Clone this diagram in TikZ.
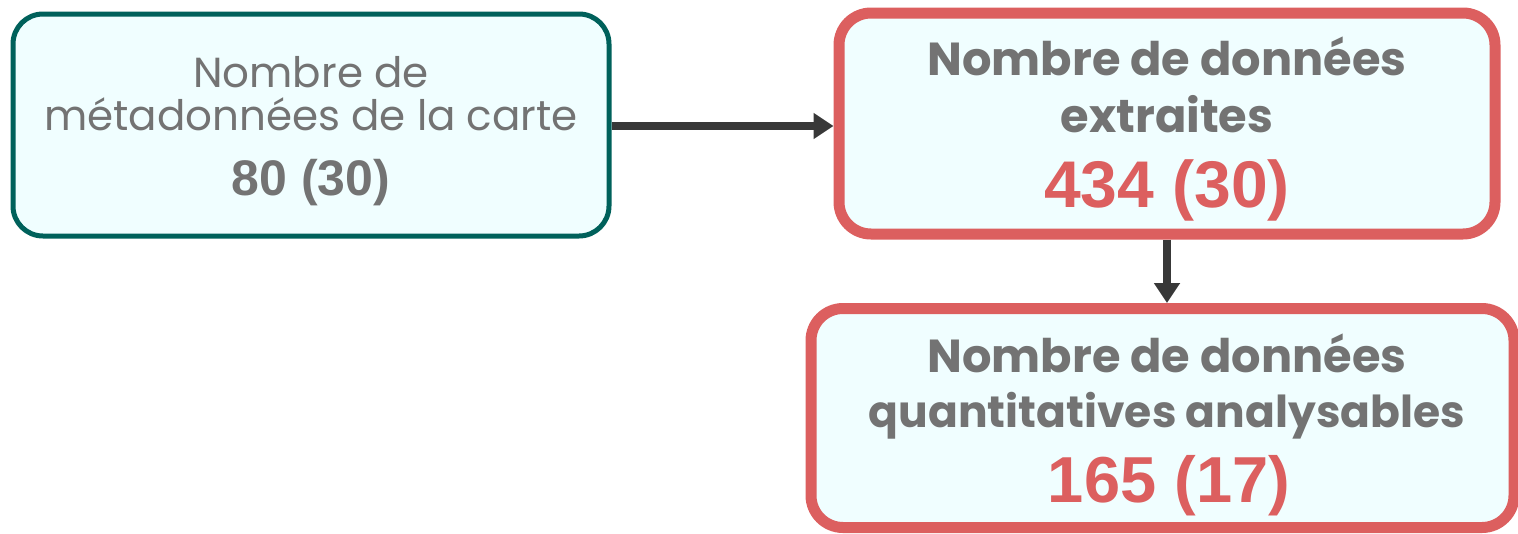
\documentclass[tikz,border=0pt]{standalone}
\usepackage{fontspec}
\setmainfont{Poppins}
\newfontfamily\numfont{Liberation Sans}
\usetikzlibrary{arrows.meta}
\definecolor{tealc}{HTML}{00615B}
\definecolor{redc}{HTML}{DC5F5F}
\definecolor{fillc}{HTML}{F0FEFF}
\definecolor{greyc}{HTML}{737373}
\definecolor{arrc}{HTML}{383838}
\tikzset{
  boxa/.style={draw=tealc, line width=5pt, fill=fillc, rounded corners=30pt, inner sep=0pt},
  boxb/.style={draw=redc, line width=11pt, fill=fillc, rounded corners=32pt, inner sep=0pt},
  txt/.style={anchor=base, inner sep=0pt, text=greyc},
  num/.style={anchor=base, inner sep=0pt, text=redc},
  conn/.style={draw=arrc, line width=8pt, -{Triangle[length=20pt,width=25pt]}}
}
\begin{document}
\begin{tikzpicture}[x=1pt,y=-1pt]
\useasboundingbox (0,0) rectangle (1518,533);
\node[boxa, minimum width=596pt, minimum height=222pt] (A) at (311,125) {};
\node[boxb, minimum width=656pt, minimum height=221pt] (B) at (1167,123.5) {};
\node[boxb, minimum width=703pt, minimum height=219pt] (C) at (1162.5,418) {};
% box A text
\node[txt, font=\fontsize{42}{50}\selectfont] (a1) at (311,87) {Nombre de};
\node[txt, font=\fontsize{42}{50}\selectfont] (a2) at (311,130) {métadonnées de la carte};
\node[txt, font=\numfont\bfseries\fontsize{50}{55}\selectfont] (a3) at (311,195) {80 (30)};
% box B text
\node[txt, font=\bfseries\fontsize{46.3}{58}\selectfont] (b1) at (1167,75) {Nombre de données};
\node[txt, font=\bfseries\fontsize{46.3}{58}\selectfont] (b2) at (1167,132) {extraites};
\node[num, font=\numfont\bfseries\fontsize{66}{75}\selectfont] (b3) at (1167,207) {434 (30)};
% box C text
\node[txt, font=\bfseries\fontsize{46.3}{58}\selectfont] (c1) at (1167,372) {Nombre de données};
\node[txt, font=\bfseries\fontsize{44}{58}\selectfont] (c2) at (1167,427) {quantitatives analysables};
\node[num, font=\numfont\bfseries\fontsize{65}{75}\selectfont] (c3) at (1169,502) {165 (17)};
% connectors
\draw[conn] ([yshift=-1pt]A.east) -- ([yshift=-1pt]A.east -| B.west);
\draw[conn] (B.south) -- (B.south |- C.north);
\end{tikzpicture}
\end{document}
